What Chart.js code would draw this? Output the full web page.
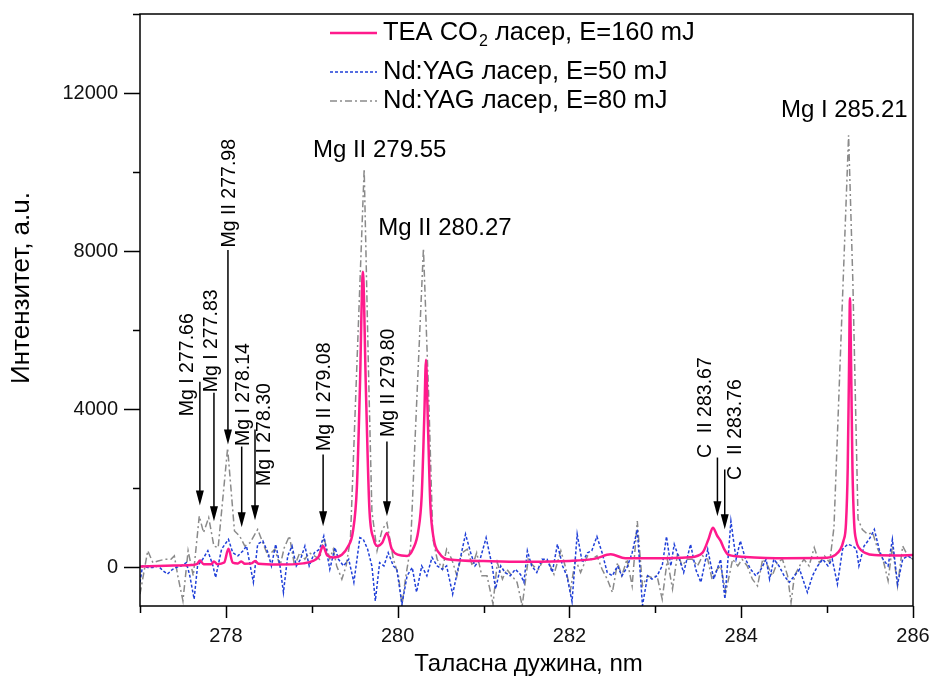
<!DOCTYPE html>
<html>
<head>
<meta charset="utf-8">
<script src="https://cdn.jsdelivr.net/npm/chart.js@4.4.1/dist/chart.umd.min.js"></script>
<style>
  html, body { margin: 0; padding: 0; background: #fff; }
  canvas { display: block; }
</style>
</head>
<body>
<canvas id="spectrum" width="934" height="686"></canvas>
<script>
// wavelength (nm), intensity (a.u.)
const co2Series = [
  [277.00, 0], [277.30, 20], [277.60, 40], [277.66, 60], [277.70, 150], [277.74, 60],
  [277.83, 60], [277.86, 130], [277.90, 60], [277.98, 100], [278.03, 450], [278.08, 100],
  [278.14, 80], [278.18, 130], [278.22, 70], [278.30, 80], [278.34, 140], [278.38, 70],
  [278.60, 50], [278.90, 80], [279.00, 130], [279.08, 250], [279.13, 520], [279.18, 280],
  [279.25, 230], [279.35, 300], [279.42, 500], [279.48, 900], [279.525, 2000], [279.56, 4500],
  [279.595, 7470], [279.63, 4500], [279.67, 1500], [279.72, 700], [279.765, 520], [279.82, 600],
  [279.875, 850], [279.93, 450], [280.00, 300], [280.11, 270], [280.18, 450], [280.24, 900],
  [280.28, 1800], [280.31, 3800], [280.33, 5240], [280.35, 3800], [280.38, 1600], [280.42, 700],
  [280.48, 350], [280.60, 180], [281.00, 140], [281.50, 120], [282.00, 140], [282.30, 200],
  [282.48, 310], [282.65, 210], [283.00, 210], [283.40, 235], [283.55, 350], [283.62, 700],
  [283.67, 985], [283.72, 780], [283.76, 650], [283.80, 450], [283.85, 300], [284.00, 250],
  [284.50, 210], [285.00, 220], [285.10, 300], [285.15, 420], [285.19, 650], [285.22, 1100],
  [285.24, 2500], [285.255, 5000], [285.266, 6800], [285.28, 5000], [285.295, 2500], [285.315, 1100],
  [285.34, 650], [285.37, 480], [285.45, 340], [285.55, 290], [285.80, 280], [286.00, 290]
];

const yag50Series = [
  [277.00, -400], [277.03, 15], [277.09, -25], [277.15, -25], [277.21, 15], [277.27, -110],
  [277.32, -190], [277.38, -70], [277.42, -25], [277.48, 15], [277.54, 100], [277.58, -235],
  [277.63, -825], [277.67, 15], [277.73, 185], [277.79, 400], [277.85, 15], [277.88, -280],
  [277.95, 440], [278.03, 690], [278.08, 350], [278.14, 270], [278.20, 400], [278.24, 520],
  [278.32, -400], [278.37, 565], [278.43, 650], [278.49, 350], [278.53, 15], [278.58, 565],
  [278.63, 15], [278.67, -655], [278.72, 270], [278.77, 520], [278.82, 15], [278.87, 185],
  [278.92, 520], [278.97, 15], [279.03, 350], [279.09, 440], [279.14, 775], [279.21, -70],
  [279.27, 480], [279.31, 185], [279.37, 15], [279.43, 185], [279.49, -400], [279.56, 730],
  [279.60, 690], [279.65, 440], [279.70, 15], [279.74, -870], [279.79, 100], [279.84, 15],
  [279.89, 350], [279.95, 15], [279.99, -70], [280.05, -950], [280.11, -235], [280.17, -25],
  [280.22, -650], [280.28, 15], [280.34, -235], [280.40, 230], [280.46, 15], [280.52, -70],
  [280.57, 15], [280.64, -700], [280.71, 15], [280.79, 820], [280.85, 350], [280.90, 15],
  [280.96, 185], [281.03, 730], [281.10, 15], [281.14, -570], [281.20, 15], [281.25, -150],
  [281.31, -235], [281.37, -70], [281.43, -200], [281.47, -400], [281.51, 400], [281.56, 15],
  [281.62, -150], [281.68, 185], [281.74, 185], [281.80, -150], [281.86, 565], [281.92, 15],
  [281.97, -235], [282.03, -890], [282.09, 820], [282.15, 100], [282.21, 350], [282.26, 400],
  [282.32, 760], [282.38, 350], [282.44, -150], [282.50, -235], [282.56, 15], [282.61, -235],
  [282.67, -25], [282.73, 350], [282.79, 940], [282.85, -990], [282.91, -235], [282.96, -320],
  [283.02, -235], [283.08, 15], [283.13, 760], [283.18, 15], [283.22, 565], [283.28, 185],
  [283.33, -150], [283.41, 565], [283.47, -70], [283.53, -400], [283.61, 437], [283.68, -320],
  [283.76, 185], [283.81, -820], [283.88, 1150], [283.94, 185], [283.99, 650], [284.05, 185],
  [284.11, -70], [284.17, -235], [284.23, -70], [284.29, 185], [284.33, -320], [284.38, 185],
  [284.44, 15], [284.50, -235], [284.56, -400], [284.62, -235], [284.68, -70], [284.73, -400],
  [284.77, -655], [284.83, -235], [284.89, 15], [284.95, 185], [285.01, 15], [285.06, 185],
  [285.12, -450], [285.18, 440], [285.24, 565], [285.30, 520], [285.34, 440], [285.37, 15],
  [285.43, 520], [285.49, 690], [285.55, 940], [285.61, 400], [285.65, 185], [285.71, 15],
  [285.76, 690], [285.82, -450], [285.88, 185], [285.94, 270], [286.00, 185]
];

const yag80Series = [
  [277.00, -700], [277.09, 400], [277.15, 100], [277.21, 140], [277.29, 185], [277.36, 185],
  [277.40, 270], [277.44, -235], [277.50, -870], [277.56, 400], [277.62, -235], [277.69, 1280],
  [277.74, 860], [277.80, 1240], [277.86, 520], [277.91, 480], [278.02, 3000], [278.10, 900],
  [278.16, 775], [278.22, 520], [278.28, 600], [278.37, 940], [278.43, 600], [278.49, 270],
  [278.57, 440], [278.63, 15], [278.68, 480], [278.74, 775], [278.80, 15], [278.86, 350],
  [278.92, 185], [278.97, 350], [279.03, 270], [279.09, 185], [279.14, 730], [279.21, 200],
  [279.25, 440], [279.29, 15], [279.35, -320], [279.40, 15], [279.45, 700], [279.61, 10080],
  [279.66, 5000], [279.70, 1400], [279.76, 400], [279.82, 940], [279.875, 1110], [279.95, 185],
  [280.01, -235], [280.05, -990], [280.09, -320], [280.15, 500], [280.20, 3100], [280.30, 8060],
  [280.36, 4400], [280.41, 700], [280.46, 185], [280.52, -70], [280.57, 440], [280.63, 185],
  [280.69, -235], [280.75, 350], [280.81, 440], [280.87, 15], [280.92, 350], [280.98, -235],
  [281.04, -235], [281.11, -950], [281.16, 100], [281.22, -320], [281.27, -70], [281.33, -235],
  [281.39, -400], [281.45, -990], [281.52, 185], [281.58, 15], [281.64, -70], [281.70, 185],
  [281.76, 100], [281.82, -195], [281.90, 400], [281.95, 15], [282.01, -615], [282.07, 185],
  [282.13, -150], [282.21, 270], [282.26, 185], [282.32, 270], [282.38, -70], [282.44, -320],
  [282.50, -655], [282.56, 100], [282.61, -235], [282.67, 185], [282.73, -490], [282.79, 1150],
  [282.85, -490], [282.91, -235], [282.96, -280], [283.02, -235], [283.08, -825], [283.14, 185],
  [283.20, -570], [283.26, 350], [283.31, 15], [283.37, 185], [283.43, 185], [283.49, 15],
  [283.55, 270], [283.61, 185], [283.66, -320], [283.72, -70], [283.76, 15], [283.82, -655],
  [283.90, 185], [283.96, 15], [284.01, 185], [284.07, 15], [284.13, -320], [284.19, -490],
  [284.25, 185], [284.31, 15], [284.36, -235], [284.42, 100], [284.48, 185], [284.54, -235],
  [284.58, -910], [284.62, -235], [284.68, 15], [284.73, 185], [284.79, 15], [284.85, 480],
  [284.91, 100], [284.97, 270], [285.03, 100], [285.08, 1000], [285.25, 10925], [285.30, 7200],
  [285.36, 1200], [285.41, 940], [285.47, 820], [285.53, 860], [285.59, 440], [285.65, 185],
  [285.71, -360], [285.76, 520], [285.82, -490], [285.88, 520], [285.94, 270], [286.00, 185]
];

const seriesNames = ['TEA CO₂ ласер, E=160 mJ', 'Nd:YAG ласер, E=50 mJ', 'Nd:YAG ласер, E=80 mJ'];

const xTickValues = [277, 278, 279, 280, 281, 282, 283, 284, 285, 286];
const xTickLabels = [278, 280, 282, 284, 286];
const yTickValues = [0, 2000, 4000, 6000, 8000, 10000, 12000, 14000];
const yTickLabels = [0, 4000, 8000, 12000];

const peakLabels = ['Mg II 279.55', 'Mg II 280.27', 'Mg I 285.21'];
const lineLabels = ['Mg I 277.66', 'Mg I 277.83', 'Mg II 277.98', 'Mg I 278.14', 'Mg I 278.30',
  'Mg II 279.08', 'Mg II 279.80', 'C  II 283.67', 'C  II 283.76'];

// where the annotations sit, in axis units
const peakLabelPos = [[279.79, 10545], [280.55, 8574], [285.20, 11556]];
const lineLabelPos = [[277.557, 5113], [277.837, 5719], [278.047, 9459], [278.21, 4357], [278.455, 3343],
  [279.155, 4303], [279.89, 4657], [283.586, 4026], [283.935, 3470]];
const arrowPos = [[277.697, 4683, 1549], [277.861, 4405, 1145], [278.024, 8018, 3090], [278.184, 3040, 998],
  [278.339, 3470, 1170], [279.132, 2838, 1018], [279.875, 3166, 1271], [283.723, 2762, 1271], [283.808, 2459, 942]];

const FONT = "'Liberation Sans', Arial, sans-serif";
const PINK = '#ff1a8c';
const BLUE = '#1f3fd8';
const GRAY = '#8a8a8a';

const toPoints = (arr) => arr.map(([x, y]) => ({ x, y }));

const decor = {
  id: 'decor',
  afterDraw(chart) {
    const { ctx, chartArea: a, scales: { x, y } } = chart;
    ctx.save();

    // frame
    ctx.strokeStyle = '#000';
    ctx.lineWidth = 1.5;
    ctx.setLineDash([]);
    ctx.strokeRect(a.left, a.top, a.right - a.left, a.bottom - a.top);

    // tick marks and tick labels
    ctx.beginPath();
    xTickValues.forEach((v) => {
      const px = Math.round(x.getPixelForValue(v)) + 0.5;
      const len = xTickLabels.includes(v) ? 12 : 7;
      ctx.moveTo(px, a.bottom);
      ctx.lineTo(px, a.bottom + len);
    });
    yTickValues.forEach((v) => {
      const py = Math.round(y.getPixelForValue(v)) + 0.5;
      const len = yTickLabels.includes(v) ? 16 : 7;
      ctx.moveTo(a.left, py);
      ctx.lineTo(a.left - len, py);
    });
    ctx.stroke();

    ctx.fillStyle = '#111';
    ctx.font = '20px ' + FONT;
    ctx.textBaseline = 'middle';
    ctx.textAlign = 'center';
    xTickLabels.forEach((v) => ctx.fillText(String(v), x.getPixelForValue(v), a.bottom + 30));
    ctx.textAlign = 'right';
    yTickLabels.forEach((v) => ctx.fillText(String(v), a.left - 22, y.getPixelForValue(v) + 1));

    // arrows
    ctx.lineWidth = 1.5;
    ctx.strokeStyle = '#000';
    ctx.fillStyle = '#000';
    arrowPos.forEach(([wl, top, tip]) => {
      const px = x.getPixelForValue(wl);
      const y0 = y.getPixelForValue(top);
      const y1 = y.getPixelForValue(tip);
      ctx.beginPath();
      ctx.moveTo(px, y0);
      ctx.lineTo(px, y1 - 12);
      ctx.stroke();
      ctx.beginPath();
      ctx.moveTo(px - 4, y1 - 15);
      ctx.lineTo(px + 4, y1 - 15);
      ctx.lineTo(px, y1);
      ctx.closePath();
      ctx.fill();
    });

    // line labels
    ctx.textAlign = 'center';
    ctx.textBaseline = 'middle';
    ctx.font = '19.5px ' + FONT;
    lineLabels.forEach((t, i) => {
      const [wl, v] = lineLabelPos[i];
      ctx.save();
      ctx.translate(x.getPixelForValue(wl), y.getPixelForValue(v));
      ctx.rotate(-Math.PI / 2);
      ctx.fillText(t, 0, 0);
      ctx.restore();
    });
    ctx.font = '24px ' + FONT;
    peakLabels.forEach((t, i) => {
      const [wl, v] = peakLabelPos[i];
      ctx.fillText(t, x.getPixelForValue(wl), y.getPixelForValue(v));
    });

    // legend
    const rows = [33, 72, 101];
    const styles = [[PINK, 2.5, []], [BLUE, 1.5, [3, 2]], [GRAY, 1.5, [7, 3, 2, 3]]];
    rows.forEach((ry, i) => {
      const [c, w, d] = styles[i];
      ctx.strokeStyle = c;
      ctx.lineWidth = w;
      ctx.setLineDash(d);
      ctx.beginPath();
      ctx.moveTo(330, ry);
      ctx.lineTo(377, ry);
      ctx.stroke();
    });
    ctx.setLineDash([]);
    ctx.textAlign = 'left';
    ctx.fillStyle = '#000';
    ctx.font = '25.5px ' + FONT;
    let lx = 383;
    ctx.fillText('TEA CO', lx, rows[0]);
    lx += ctx.measureText('TEA CO').width + 1;
    ctx.font = '16px ' + FONT;
    ctx.fillText('2', lx, rows[0] + 9);
    lx += ctx.measureText('2').width;
    ctx.font = '25.5px ' + FONT;
    ctx.fillText(' ласер, E=160 mJ', lx, rows[0]);
    ctx.fillText(seriesNames[1], 383, rows[1]);
    ctx.fillText(seriesNames[2], 383, rows[2]);

    // axis titles
    ctx.textAlign = 'center';
    ctx.font = '24px ' + FONT;
    ctx.fillText('Таласна дужина, nm', (a.left + a.right) / 2 + 2, 664);
    ctx.save();
    ctx.translate(22, 288);
    ctx.rotate(-Math.PI / 2);
    ctx.font = '26px ' + FONT;
    ctx.fillText('Интензитет, а.u.', 0, 0);
    ctx.restore();

    ctx.restore();
  }
};

const ctx = document.getElementById('spectrum').getContext('2d');

const chart = new Chart(ctx, {
  type: 'line',
  data: {
    datasets: [
      { label: seriesNames[0], data: toPoints(co2Series), borderColor: PINK, borderWidth: 2.5,
        cubicInterpolationMode: 'monotone', pointRadius: 0, fill: false },
      { label: seriesNames[1], data: toPoints(yag50Series), borderColor: BLUE, borderWidth: 1.5,
        borderDash: [3, 2], pointRadius: 0, tension: 0, fill: false },
      { label: seriesNames[2], data: toPoints(yag80Series), borderColor: GRAY, borderWidth: 1.5,
        borderDash: [7, 3, 2, 3], pointRadius: 0, tension: 0, fill: false },
    ],
  },
  options: {
    responsive: false,
    animation: false,
    layout: { padding: { top: 14, right: 21, left: 0, bottom: 0 } },
    plugins: { legend: { display: false }, tooltip: { enabled: false } },
    scales: {
      x: {
        type: 'linear',
        min: 277,
        max: 286,
        grid: { display: false },
        border: { display: false },
        ticks: { display: false },
        afterFit: (s) => { s.height = 80; },
      },
      y: {
        type: 'linear',
        min: -1000,
        max: 14000,
        grid: { display: false },
        border: { display: false },
        ticks: { display: false },
        afterFit: (s) => { s.width = 140; },
      },
    },
  },
  plugins: [decor],
});
</script>
</body>
</html>
